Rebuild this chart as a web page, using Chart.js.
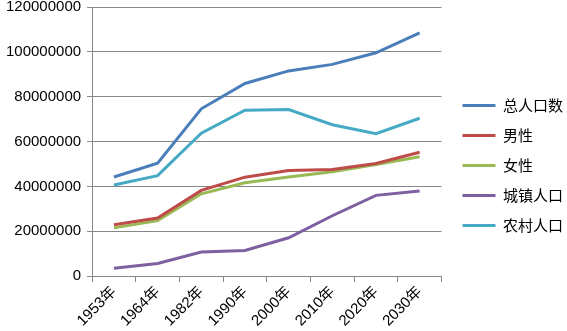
<!DOCTYPE html>
<html>
<head>
<meta charset="utf-8">
<script src="https://cdn.jsdelivr.net/npm/chart.js@4"></script>
<style>
  html, body { margin: 0; padding: 0; background: #fff; }
  #wrap { width: 567px; height: 331px; }
</style>
</head>
<body>
<div id="wrap"><canvas id="myChart" width="567" height="331"></canvas></div>
<script>
var years = ['1953年', '1964年', '1982年', '1990年', '2000年', '2010年', '2020年', '2030年'];

var total = [44200000, 50300000, 74600000, 85900000, 91500000, 94400000, 99600000, 108500000];
var male = [22900000, 25900000, 38200000, 44100000, 47100000, 47500000, 50200000, 55200000];
var female = [21500000, 24700000, 36700000, 41600000, 44200000, 46500000, 49800000, 53200000];
var urban = [3500000, 5600000, 10700000, 11400000, 17100000, 26900000, 36000000, 37900000];
var rural = [40600000, 44800000, 63700000, 74000000, 74300000, 67500000, 63500000, 70400000];

var names = ['总人口数', '男性', '女性', '城镇人口', '农村人口'];
var COLORS = ['#4A7EBB', '#BE4B48', '#98B954', '#7D60A0', '#46AAC5'];

var yTicks = [0, 20000000, 40000000, 60000000, 80000000, 100000000, 120000000];

var series = [total, male, female, urban, rural];
var datasets = [];
for (var i = 0; i < series.length; i++) {
  datasets.push({
    label: names[i],
    data: series[i],
    borderColor: COLORS[i],
    backgroundColor: COLORS[i],
    borderWidth: 3,
    pointRadius: 0,
    fill: false,
    tension: 0
  });
}

// nudge the legend a bit to the right, away from the plot
var legendShift = {
  id: 'legendShift',
  afterLayout: function (chart) {
    chart.legend.left += 6;
    chart.legend.right += 6;
  }
};

new Chart('myChart', {
  type: 'line',
  data: { labels: years, datasets: datasets },
  plugins: [legendShift],
  options: {
    responsive: false,
    animation: false,
    layout: { padding: { top: 0, right: 0, left: 0, bottom: 0 } },
    plugins: {
      legend: {
        position: 'right',
        labels: {
          usePointStyle: true,
          pointStyle: 'line',
          pointStyleWidth: 33,
          color: '#000',
          padding: 15,
          font: { family: '"Noto Sans CJK SC", sans-serif', size: 15 }
        }
      },
      tooltip: { enabled: false }
    },
    scales: {
      x: {
        offset: true,
        grid: { display: true, drawOnChartArea: false, offset: true, tickLength: 6, color: '#868686' },
        border: { color: '#868686' },
        ticks: {
          color: '#000',
          padding: 1,
          maxRotation: 45,
          minRotation: 45,
          font: { family: '"Liberation Sans", "Noto Sans CJK SC", sans-serif', size: 15 }
        }
      },
      y: {
        min: 0,
        max: 120000000,
        afterBuildTicks: function (axis) {
          axis.ticks = yTicks.map(function (v) { return { value: v }; });
        },
        afterFit: function (axis) {
          axis.paddingTop = 7;
        },
        grid: { color: '#868686', tickLength: 5 },
        border: { color: '#868686' },
        ticks: {
          color: '#000',
          padding: 6,
          font: { family: '"Liberation Sans", sans-serif', size: 15 },
          callback: function (v) { return String(v); }
        }
      }
    }
  }
});
</script>
</body>
</html>
